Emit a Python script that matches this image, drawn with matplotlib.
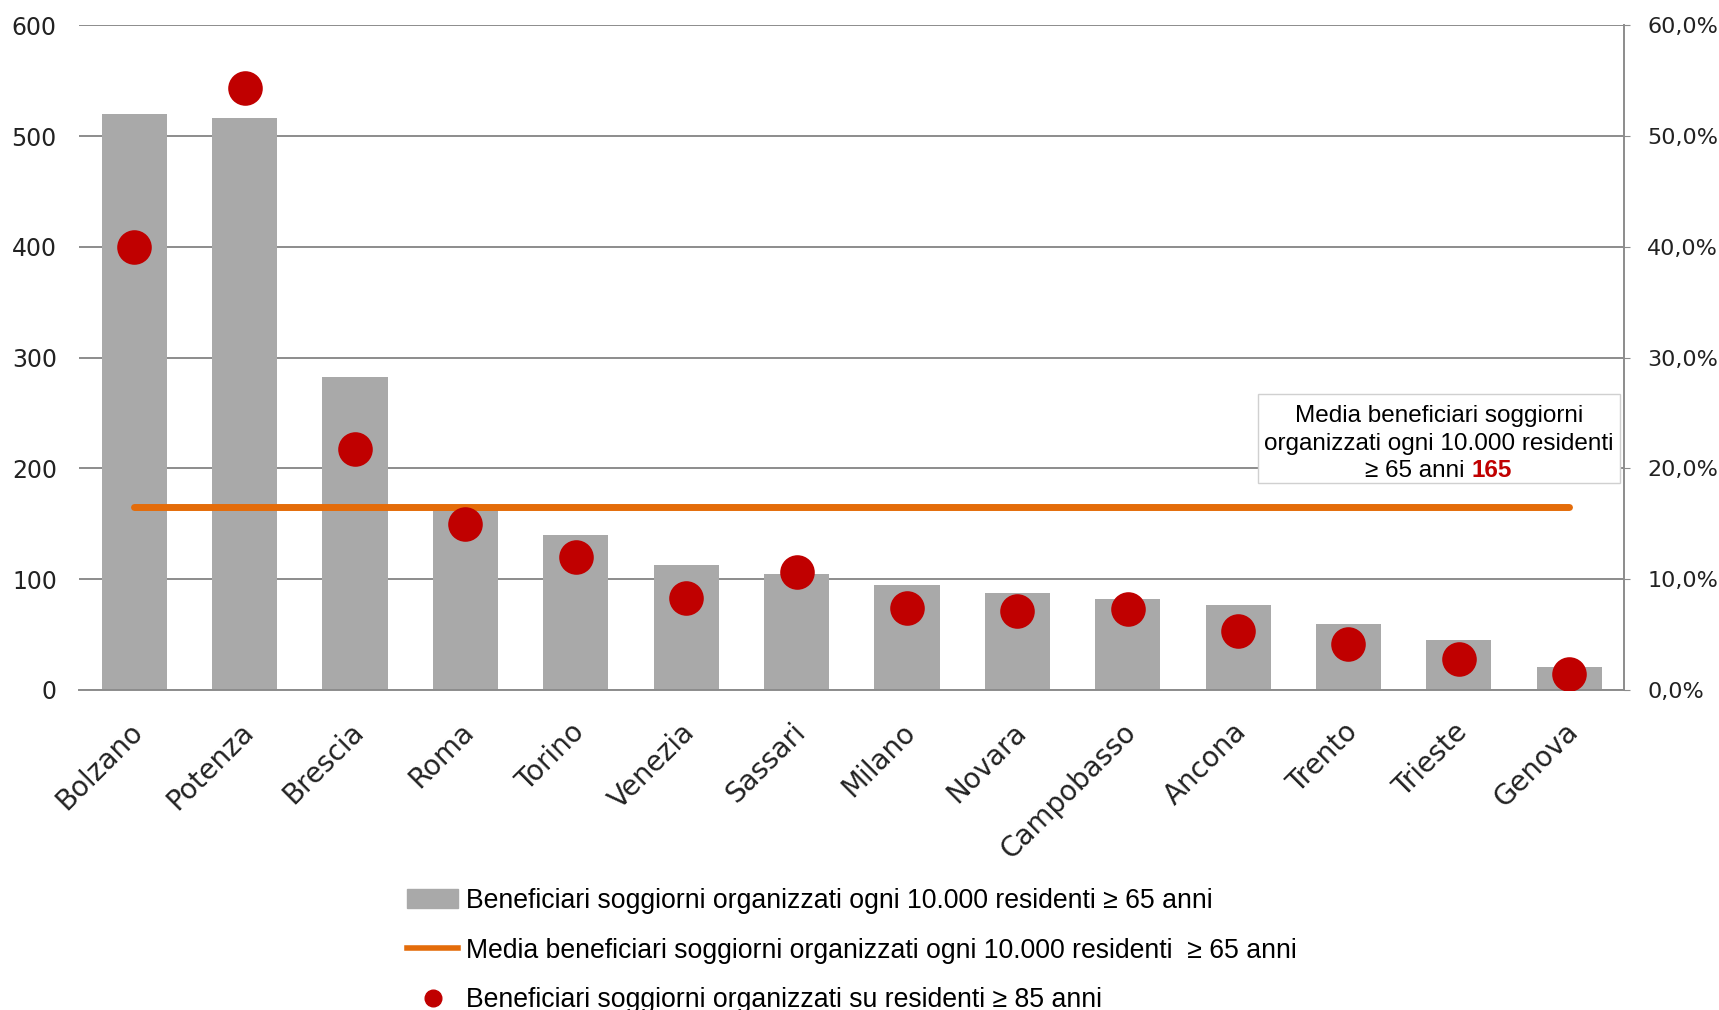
import matplotlib.pyplot as plt
import matplotlib.transforms as mtrans
from matplotlib.patches import Patch, Rectangle
from matplotlib.lines import Line2D
from matplotlib.ticker import FuncFormatter

# data
cities = ["Bolzano", "Potenza", "Brescia", "Roma", "Torino", "Venezia", "Sassari",
          "Milano", "Novara", "Campobasso", "Ancona", "Trento", "Trieste", "Genova"]
beneficiari_65 = [520, 516, 282, 163, 140, 113, 105, 95, 87, 82, 77, 59, 45, 21]
quota_85 = [0.400, 0.543, 0.217, 0.150, 0.120, 0.083, 0.106, 0.074, 0.071, 0.073,
            0.053, 0.041, 0.028, 0.014]
media_65 = 165

lbl_bar = "Beneficiari soggiorni organizzati ogni 10.000 residenti \u2265 65 anni"
lbl_line = "Media beneficiari soggiorni organizzati ogni 10.000 residenti  \u2265 65 anni"
lbl_dot = "Beneficiari soggiorni organizzati su residenti \u2265 85 anni"

grid_col = "#8c8c8c"
bar_col = "#a9a9a9"
red = "#c00000"
orange = "#e46c0a"

fig = plt.figure(figsize=(17.19, 10.10), dpi=100)
ax = fig.add_axes([0.046, 0.317, 0.899, 0.658])
x = list(range(len(cities)))

ax.bar(x, beneficiari_65, width=0.59, color=bar_col, zorder=2)
ax.plot([x[0], x[-1]], [media_65, media_65], color=orange, lw=5,
        solid_capstyle="round", zorder=3)

ax.set_xlim(-0.5, len(cities) - 0.5)
ax.set_ylim(0, 600)
ax.set_yticks(range(0, 601, 100))
ax.yaxis.grid(True, color=grid_col, lw=1.4, zorder=0)
ax.set_axisbelow(True)
for s in ["left", "top", "right"]:
    ax.spines[s].set_visible(False)
ax.spines["bottom"].set_color(grid_col)
ax.spines["bottom"].set_linewidth(1.4)
ax.tick_params(axis="y", length=0, labelsize=17, pad=16, labelcolor="#222222")
ax.tick_params(axis="x", length=0, pad=20)
ax.set_xticks(x)
ax.set_xticklabels(cities, rotation=45, ha="right", rotation_mode="anchor",
                   fontsize=20, color="#222222")
shift = mtrans.ScaledTranslation(-0.055, 0, fig.dpi_scale_trans)
for lab in ax.get_xticklabels():
    lab.set_transform(lab.get_transform() + shift)

ax2 = ax.twinx()
ax2.scatter(x, quota_85, s=620, color=red, zorder=4, linewidths=0)
ax2.set_ylim(0, 0.6)
ax2.set_yticks([i / 10 for i in range(7)])
ax2.yaxis.set_major_formatter(FuncFormatter(lambda v, p: f"{v*100:.1f}%".replace(".", ",")))
for s in ["left", "top", "bottom"]:
    ax2.spines[s].set_visible(False)
ax2.spines["right"].set_color(grid_col)
ax2.spines["right"].set_linewidth(1.4)
ax2.tick_params(axis="y", length=4, color=grid_col, labelsize=16, pad=12.5,
                labelcolor="#222222")

# annotation box
box = Rectangle((10.18, 186.5), 3.28, 81, facecolor="white", edgecolor="#d0d0d0",
                lw=1, zorder=5)
ax.add_patch(box)
ax.text(11.82, 247, "Media beneficiari soggiorni", ha="center", va="center",
        fontsize=17.5, family="Liberation Sans", zorder=6)
ax.text(11.82, 222, "organizzati ogni 10.000 residenti", ha="center", va="center",
        fontsize=17.5, family="Liberation Sans", zorder=6)
t1 = ax.text(12.11, 197.5, "\u2265 65 anni ", ha="right", va="center",
             fontsize=17.5, family="Liberation Sans", zorder=6)
ax.annotate(str(media_65), xy=(1, 0), xycoords=t1, ha="left", va="bottom",
            fontsize=17.5, family="Liberation Sans", fontweight="bold", color=red,
            zorder=6)

handles = [Patch(color=bar_col),
           Line2D([0], [0], color=orange, lw=4),
           Line2D([0], [0], marker="o", color=red, ls="none", markersize=12)]
fig.legend(handles, [lbl_bar, lbl_line, lbl_dot], loc="upper left",
           bbox_to_anchor=(0.237, 0.121), frameon=False,
           prop={"family": "Liberation Sans", "size": 19.2},
           handlelength=1.9, handletextpad=0.29, labelspacing=0.89,
           borderaxespad=0, borderpad=0)

fig.savefig("out.png", dpi=100)
